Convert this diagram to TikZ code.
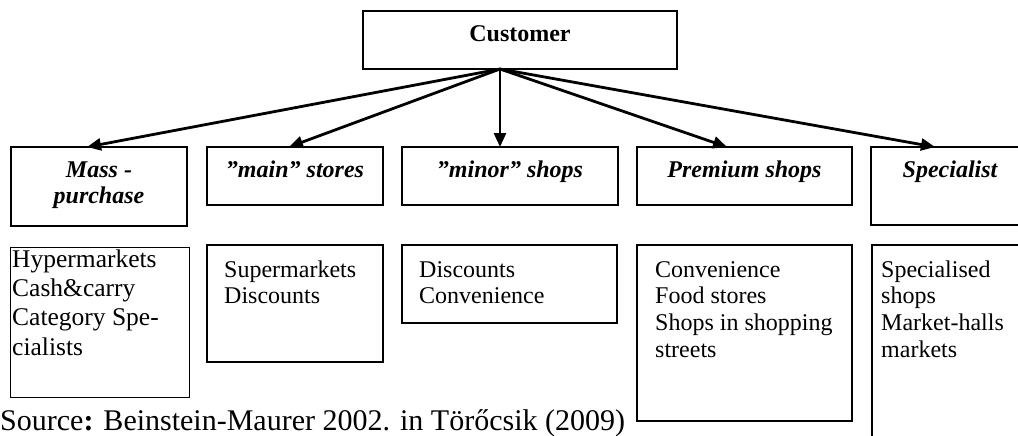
\documentclass[tikz,border=0pt]{standalone}
\usepackage{fontspec}
\setmainfont{Liberation Serif}
\usetikzlibrary{arrows.meta}
\begin{document}
\begin{tikzpicture}[x=1pt,y=-1pt,
  box/.style={draw, line width=1.5pt, inner sep=0pt, outer sep=0pt, anchor=north west},
  thinbox/.style={draw, line width=0.9pt, inner sep=0pt, outer sep=0pt, anchor=north west},
  head/.style={font=\fontsize{24}{26}\selectfont\bfseries\itshape, inner sep=0pt, anchor=base},
  list/.style={inner sep=0pt, anchor=north west, align=left, font=\fontsize{24}{26.7}\selectfont},
  arr/.style={line width=2.8pt, -{Triangle[length=14pt,width=12pt]}}]
\useasboundingbox (0,0) rectangle (1018,436);
\clip (0,0) rectangle (1018,436);
% top box
\node[box, minimum width=314pt, minimum height=58pt] (cust) at (363,11) {};
\node[font=\fontsize{24}{26}\selectfont\bfseries, inner sep=0pt, anchor=base] (custt) at (520,42) {Customer};
% second row
\node[box, minimum width=176pt, minimum height=79pt] (mass) at (11,147) {};
\node[box, minimum width=176pt, minimum height=58pt] (main) at (207,147) {};
\node[box, minimum width=216pt, minimum height=58pt] (minor) at (402,147) {};
\node[box, minimum width=215pt, minimum height=58pt] (prem) at (637,147) {};
\node[box, minimum width=169pt, minimum height=78pt] (spec) at (871,147) {};
\node[head] (masst1) at (99,177) {Mass -};
\node[head] (masst2) at (99,203) {purchase};
\node[head] (maint) at (295,177) {”main” stores};
\node[head] (minort) at (510,177) {”minor” shops};
\node[head] (premt) at (744.5,177) {Premium shops};
\node[head] (spect) at (950,177) {Specialist};
% arrows
\coordinate (o) at (500,69);
\coordinate (tmass) at (87,147);
\coordinate (tmain) at (289,147);
\coordinate (tminor) at (500,147);
\coordinate (tprem) at (727,147);
\coordinate (tspec) at (935,147);
\draw[arr] (o) -- (tmass);
\draw[arr] (o) -- (tmain);
\draw[arr] (o) -- (tminor);
\draw[arr] (o) -- (tprem);
\draw[arr] (o) -- (tspec);
% third row
\node[thinbox, minimum width=179pt, minimum height=150pt] (hyper) at (10,247) {};
\node[box, minimum width=176pt, minimum height=117pt] (super) at (207,245) {};
\node[box, minimum width=215pt, minimum height=78pt] (disc) at (402,245) {};
\node[box, minimum width=215pt, minimum height=176pt] (conv) at (637,245) {};
\node[box, minimum width=180pt, minimum height=230pt] (specd) at (872,245) {};
\node[list, font=\fontsize{25.5}{29.3}\selectfont] (hypert) at (12,246.5) {\strut Hypermarkets\\Cash\&carry\\Category Spe-\\cialists};
\node[list] (supert) at (224,258.3) {\strut Supermarkets\\Discounts};
\node[list] (disct) at (419,258.3) {\strut Discounts\\Convenience};
\node[list] (convt) at (655,258.3) {\strut Convenience\\Food stores\\Shops in shopping\\streets};
\node[list] (specdt) at (881,258.3) {\strut Specialised\\shops\\Market-halls\\markets};
% source
\node[anchor=base west, inner sep=0pt, font=\fontsize{30}{32}\selectfont] (source) at (0,430) {Source\textbf{:} Beinstein-Maurer 2002. in Törőcsik (2009)};
\end{tikzpicture}
\end{document}
